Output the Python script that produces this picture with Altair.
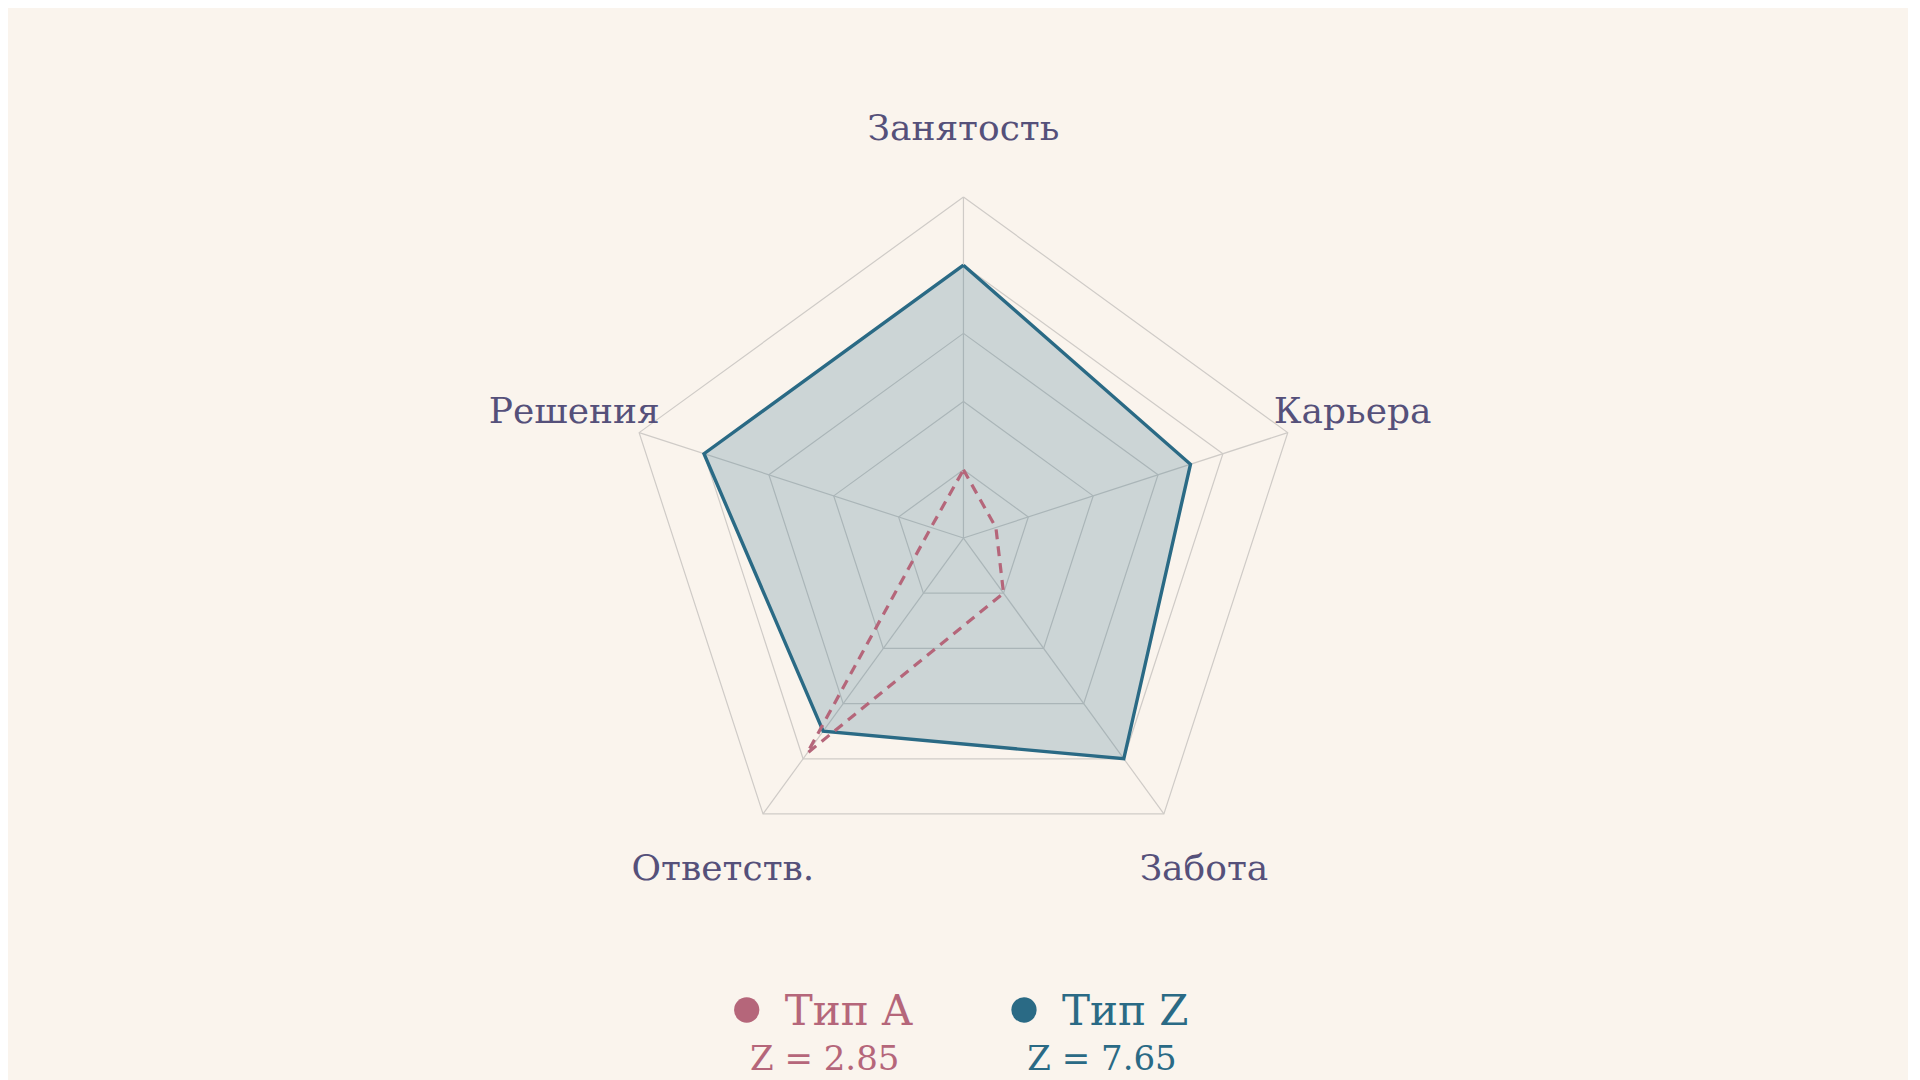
import math
import altair as alt
import pandas as pd

# ---- data ----
categories = ["Занятость", "Карьера", "Забота", "Ответств.", "Решения"]
series_names = ["Тип A", "Тип Z"]
type_a = [2, 1, 2, 7.8, 1]
type_z = [8, 7, 8, 7, 8]
z_scores = [2.85, 7.65]
grid_levels = [2, 4, 6, 8, 10]
max_value = 10

BG = "#FAF4ED"
COL_A = "#B5667A"
COL_Z = "#2A6A85"
LABEL_COL = "#55507A"
GRID_COL = "#CFCBC7"
FONT = "DejaVu Serif"

n = len(categories)

# polygon rows (closing point repeated)
def poly_rows(values, name):
    rows = []
    for k in range(n + 1):
        i = k % n
        rows.append({"series": name, "cat": categories[i], "idx": i, "ord": k, "value": values[i]})
    return rows

series_df = pd.DataFrame(poly_rows(type_a, series_names[0]) + poly_rows(type_z, series_names[1]))

grid_rows = []
for lv in grid_levels:
    for k in range(n + 1):
        i = k % n
        grid_rows.append({"level": lv, "idx": i, "ord": k, "value": lv})
grid_df = pd.DataFrame(grid_rows)

spoke_df = pd.DataFrame({"cat": categories, "idx": list(range(n)), "value": [max_value] * n})
label_df = pd.DataFrame({"cat": categories, "idx": list(range(n)), "value": [max_value * 1.2] * n})

ang = f"datum.idx * 2 * PI / {n}"
xcalc = f"datum.value * sin({ang})"
ycalc = f"datum.value * cos({ang})"

xs = alt.Scale(domain=[-28.02, 27.70], nice=False, zero=False)
ys = alt.Scale(domain=[-15.89, 15.54], nice=False, zero=False)

def X(f):
    return alt.X(f, type="quantitative", scale=xs, axis=None)

def Y(f):
    return alt.Y(f, type="quantitative", scale=ys, axis=None)

grid = alt.Chart(grid_df).transform_calculate(px=xcalc, py=ycalc).mark_line(
    stroke=GRID_COL, strokeWidth=1.2
).encode(x=X("px"), y=Y("py"), detail="level:N", order="ord:Q")

spokes = alt.Chart(spoke_df).transform_calculate(
    px=xcalc, py=ycalc, zx="0", zy="0"
).mark_rule(stroke=GRID_COL, strokeWidth=1.2).encode(
    x=X("zx"), y=Y("zy"), x2="px:Q", y2="py:Q"
)

poly_z = alt.Chart(series_df).transform_filter(
    alt.datum.series == series_names[1]
).transform_calculate(px=xcalc, py=ycalc).mark_line(
    stroke=COL_Z, strokeWidth=3.4, fill=COL_Z, fillOpacity=0.22
).encode(x=X("px"), y=Y("py"), order="ord:Q")

poly_a = alt.Chart(series_df).transform_filter(
    alt.datum.series == series_names[0]
).transform_calculate(px=xcalc, py=ycalc).mark_line(
    stroke=COL_A, strokeWidth=3.2, strokeDash=[10, 7]
).encode(x=X("px"), y=Y("py"), order="ord:Q")

labels = alt.Chart(label_df).transform_calculate(px=xcalc, py=ycalc).mark_text(
    font=FONT, fontSize=36, color=LABEL_COL, align="center", baseline="middle"
).encode(x=X("px"), y=Y("py"), text="cat:N")

# ---- custom legend ----
legend_layers = []
legend_x = [738.7, 1016]
for name, z, col, lx in zip(series_names, z_scores, [COL_A, COL_Z], legend_x):
    ldf = pd.DataFrame({"series": [name], "z": [z]})
    dot = alt.Chart(ldf).mark_circle(size=640, color=col, opacity=1).encode(
        x=alt.value(lx), y=alt.value(1002)
    )
    txt = alt.Chart(ldf).mark_text(
        font=FONT, fontSize=42, color=col, align="left", baseline="alphabetic"
    ).encode(x=alt.value(lx + 38), y=alt.value(1017), text="series:N")
    ztxt = alt.Chart(ldf).transform_calculate(
        lab="'Z  = ' + format(datum.z, '.2f')"
    ).mark_text(
        font=FONT, fontSize=34, color=col, align="center", baseline="alphabetic"
    ).encode(x=alt.value(lx + 78), y=alt.value(1062), text="lab:N")
    legend_layers += [dot, txt, ztxt]

chart = alt.layer(grid, spokes, poly_z, poly_a, labels, *legend_layers).properties(
    width=1900, height=1072, background=BG, padding=0,
    autosize=alt.AutoSizeParams(type="none"),
).configure_view(stroke=None)

chart.save("out.html", embed_options={"renderer": "svg", "actions": False})
